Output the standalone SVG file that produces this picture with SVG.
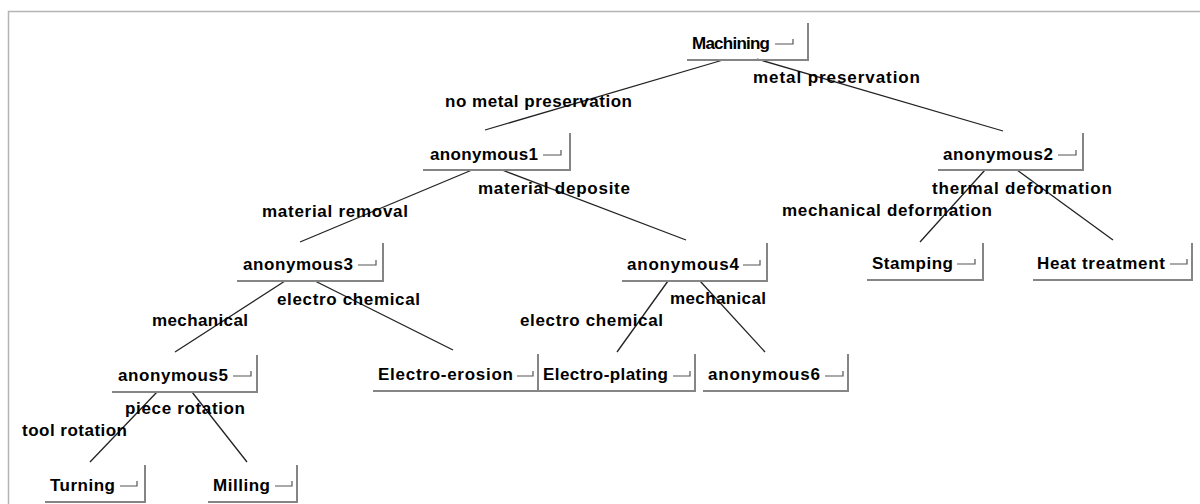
<svg xmlns="http://www.w3.org/2000/svg" width="1200" height="504" viewBox="0 0 1200 504">
<style>
text{font-family:"Liberation Sans",Arial,sans-serif;font-weight:bold;font-size:17px;fill:#000;}
.edge{stroke:#222;stroke-width:1.3;fill:none;}
.border{stroke:#858585;stroke-width:2;fill:none;}
.glyph{stroke:#555;stroke-width:1.2;fill:none;}
.frame{stroke:#b4b4b4;stroke-width:1.5;fill:none;}
</style>
<rect x="0" y="0" width="1200" height="504" fill="#fff"/>
<path class="frame" d="M8.5,504 V11.5 H1200"/>
<g id="connectors">
<line class="edge" x1="723" y1="60" x2="485" y2="130"/>
<line class="edge" x1="757" y1="59" x2="1003" y2="131"/>
<line class="edge" x1="472" y1="170" x2="300" y2="242"/>
<line class="edge" x1="502" y1="170" x2="686" y2="240"/>
<line class="edge" x1="985" y1="170" x2="920" y2="242"/>
<line class="edge" x1="1017" y1="170" x2="1113" y2="240"/>
<line class="edge" x1="285" y1="281" x2="175" y2="352"/>
<line class="edge" x1="315" y1="281" x2="453" y2="350"/>
<line class="edge" x1="668" y1="281" x2="617" y2="352"/>
<line class="edge" x1="700" y1="281" x2="765" y2="352"/>
<line class="edge" x1="157" y1="392" x2="90" y2="462"/>
<line class="edge" x1="192" y1="392" x2="247" y2="462"/>
<text x="445" y="107" textLength="187" lengthAdjust="spacing">no metal preservation</text>
<text x="753" y="83" textLength="167" lengthAdjust="spacing">metal preservation</text>
<text x="262" y="217" textLength="146" lengthAdjust="spacing">material removal</text>
<text x="478" y="194" textLength="152" lengthAdjust="spacing">material deposite</text>
<text x="932" y="194" textLength="180" lengthAdjust="spacing">thermal deformation</text>
<text x="782" y="216" textLength="210" lengthAdjust="spacing">mechanical deformation</text>
<text x="277" y="305" textLength="143" lengthAdjust="spacing">electro chemical</text>
<text x="152" y="326" textLength="96" lengthAdjust="spacing">mechanical</text>
<text x="670" y="304" textLength="96" lengthAdjust="spacing">mechanical</text>
<text x="520" y="326" textLength="143" lengthAdjust="spacing">electro chemical</text>
<text x="125" y="414" textLength="120" lengthAdjust="spacing">piece rotation</text>
<text x="22" y="436" textLength="105" lengthAdjust="spacing">tool rotation</text>
</g>
<g id="node-machining">
<text x="692" y="49" textLength="78" lengthAdjust="spacing">Machining</text>
<path class="glyph" d="M775,44 H793 V39"/>
<path class="border" d="M808,23 V60 H687"/>
</g>
<g id="node-anonymous1">
<text x="430" y="160" textLength="108" lengthAdjust="spacing">anonymous1</text>
<path class="glyph" d="M543,155 H561 V150"/>
<path class="border" d="M570,133 V170 H423"/>
</g>
<g id="node-anonymous2">
<text x="943" y="160" textLength="110" lengthAdjust="spacing">anonymous2</text>
<path class="glyph" d="M1058,155 H1076 V150"/>
<path class="border" d="M1083,133 V170 H938"/>
</g>
<g id="node-anonymous3">
<text x="243" y="270" textLength="110" lengthAdjust="spacing">anonymous3</text>
<path class="glyph" d="M358,265 H376 V260"/>
<path class="border" d="M383,243 V281 H237"/>
</g>
<g id="node-anonymous4">
<text x="627" y="270" textLength="112" lengthAdjust="spacing">anonymous4</text>
<path class="glyph" d="M743,265 H760 V260"/>
<path class="border" d="M767,243 V281 H622"/>
</g>
<g id="node-stamping">
<text x="872" y="269" textLength="81" lengthAdjust="spacing">Stamping</text>
<path class="glyph" d="M957,264 H975 V259"/>
<path class="border" d="M983,243 V280 H867"/>
</g>
<g id="node-heat-treatment">
<text x="1037" y="269" textLength="128" lengthAdjust="spacing">Heat treatment</text>
<path class="glyph" d="M1170,264 H1187 V259"/>
<path class="border" d="M1192,243 V280 H1033"/>
</g>
<g id="node-anonymous5">
<text x="118" y="381" textLength="110" lengthAdjust="spacing">anonymous5</text>
<path class="glyph" d="M233,376 H251 V371"/>
<path class="border" d="M257,355 V392 H112"/>
</g>
<g id="node-electro-erosion">
<text x="378" y="380" textLength="135" lengthAdjust="spacing">Electro-erosion</text>
<path class="glyph" d="M517,376 H533 V371"/>
<path class="border" d="M538,354 V391 H373"/>
</g>
<g id="node-electro-plating">
<text x="543" y="380" textLength="125" lengthAdjust="spacing">Electro-plating</text>
<path class="glyph" d="M673,376 H690 V371"/>
<path class="border" d="M695,354 V391 H538"/>
</g>
<g id="node-anonymous6">
<text x="708" y="380" textLength="112" lengthAdjust="spacing">anonymous6</text>
<path class="glyph" d="M825,376 H843 V371"/>
<path class="border" d="M848,354 V391 H703"/>
</g>
<g id="node-turning">
<text x="50" y="491" textLength="65" lengthAdjust="spacing">Turning</text>
<path class="glyph" d="M120,486 H137 V481"/>
<path class="border" d="M145,465 V502 H45"/>
</g>
<g id="node-milling">
<text x="213" y="491" textLength="57" lengthAdjust="spacing">Milling</text>
<path class="glyph" d="M275,486 H292 V481"/>
<path class="border" d="M297,465 V502 H208"/>
</g>
</svg>
